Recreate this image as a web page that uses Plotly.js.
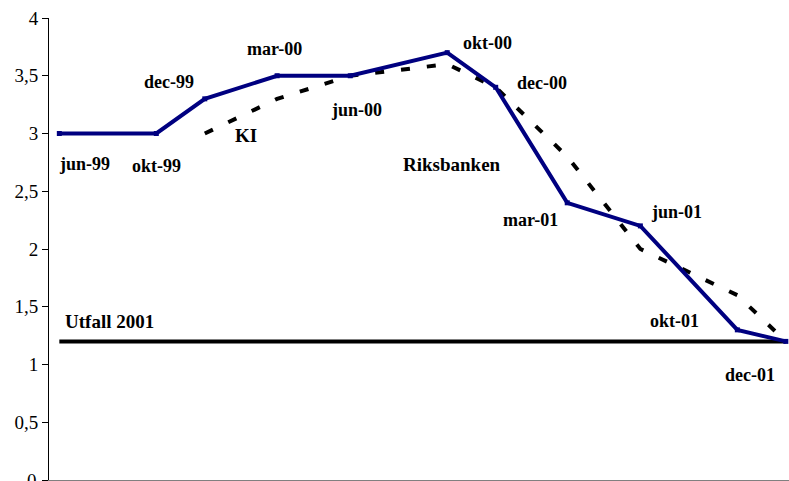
<!DOCTYPE html>
<html>
<head>
<meta charset="utf-8">
<script src="https://cdn.plot.ly/plotly-3.0.1.min.js"></script>
<style>
  html, body { margin: 0; padding: 0; background: #ffffff; }
  #chart { width: 789px; height: 481px; }
</style>
</head>
<body>
<div id="chart"></div>
<script>
// Prognosdatum och etiketter
const dates = ['1999-06-01', '1999-10-01', '1999-12-01', '2000-03-01', '2000-06-01',
               '2000-10-01', '2000-12-01', '2001-03-01', '2001-06-01', '2001-10-01', '2001-12-01'];
const dateLabels = ['jun-99', 'okt-99', 'dec-99', 'mar-00', 'jun-00',
                    'okt-00', 'dec-00', 'mar-01', 'jun-01', 'okt-01', 'dec-01'];

// Riksbankens prognoser för 2001
const riksbanken = [3.0, 3.0, 3.3, 3.5, 3.5, 3.7, 3.4, 2.4, 2.2, 1.3, 1.2];

// Konjunkturinstitutets prognoser (från dec-99)
const kiDates = dates.slice(2);
const ki = [3.0, 3.3, 3.5, 3.6, 3.4, 2.8, 2.0, 1.6, 1.2];

// Utfall 2001
const utfall = [1.2, 1.2, 1.2, 1.2, 1.2, 1.2, 1.2, 1.2, 1.2, 1.2, 1.2];

// Y-axelns skala
const yTicks = [0, 0.5, 1, 1.5, 2, 2.5, 3, 3.5, 4];
const yTickText = ['', '0,5', '1', '1,5', '2', '2,5', '3', '3,5', '4'];
const yZeroText = '0';

// Etiketternas förskjutning (px) från respektive punkt på Riksbankens kurva
const labelShift = [
  [25, -30], [0, -32], [-36, 17], [-3, 27], [6, -34],
  [40, 10], [46, 4], [-37, -17], [36, 14], [-63, 9], [-36, -34]
];

const serif = 'Liberation Serif, Times New Roman, serif';
const dateFont = { family: serif, size: 18, color: '#000000' };
const nameFont = { family: serif, size: 19, color: '#000000' };

const annotations = dateLabels.map((t, i) => ({
  x: dates[i], y: riksbanken[i], xref: 'x', yref: 'y',
  text: '<b>' + t + '</b>', showarrow: false,
  xshift: labelShift[i][0], yshift: labelShift[i][1],
  font: dateFont
}));

annotations.push(
  { x: '2000-01-22', y: 2.98, xref: 'x', yref: 'y', text: '<b>KI</b>', showarrow: false, font: nameFont },
  { x: '2000-10-07', y: 2.73, xref: 'x', yref: 'y', text: '<b>Riksbanken</b>', showarrow: false, font: nameFont },
  { x: '1999-08-03', y: 1.37, xref: 'x', yref: 'y', text: '<b>Utfall 2001</b>', showarrow: false, font: nameFont },
  // nollan vid axelns nedre kant (delvis utanför bilden)
  { x: 0, y: yTicks[0], xref: 'paper', yref: 'y', text: yZeroText, showarrow: false,
    xanchor: 'right', yanchor: 'middle', xshift: -11, borderpad: 0,
    font: { family: serif, size: 19, color: '#000000' } }
);

const traces = [
  {
    x: dates, y: utfall, type: 'scatter', mode: 'lines', name: 'Utfall 2001',
    line: { color: '#000000', width: 4 }, hoverinfo: 'skip'
  },
  {
    x: kiDates, y: ki, type: 'scatter', mode: 'lines', name: 'KI',
    line: { color: '#000000', width: 4, dash: '9px,17px' }, hoverinfo: 'skip'
  },
  {
    x: dates, y: riksbanken, type: 'scatter', mode: 'lines+markers', name: 'Riksbanken',
    line: { color: '#000080', width: 4 },
    marker: { symbol: 'square', size: 5, color: '#000080' },
    cliponaxis: false, hoverinfo: 'skip'
  }
];

const layout = {
  width: 789, height: 481,
  margin: { l: 49, r: 0, t: 18, b: 1, pad: 0 },
  paper_bgcolor: '#ffffff', plot_bgcolor: '#ffffff',
  separators: ', ',
  showlegend: false,
  xaxis: {
    type: 'date',
    range: ['1999-05-19', '2001-12-05'],
    showgrid: false, zeroline: false,
    showline: true, linecolor: '#808080', linewidth: 2,
    showticklabels: false, ticks: ''
  },
  yaxis: {
    range: [0, 4],
    tickmode: 'array', tickvals: yTicks, ticktext: yTickText,
    showgrid: false, zeroline: false,
    showline: true, linecolor: '#000000', linewidth: 1,
    ticks: 'outside', ticklen: 6, tickcolor: '#000000', tickwidth: 1,
    tickfont: { family: serif, size: 19, color: '#000000' }
  },
  annotations: annotations
};

Plotly.newPlot('chart', traces, layout, { staticPlot: true, displayModeBar: false });
</script>
</body>
</html>
